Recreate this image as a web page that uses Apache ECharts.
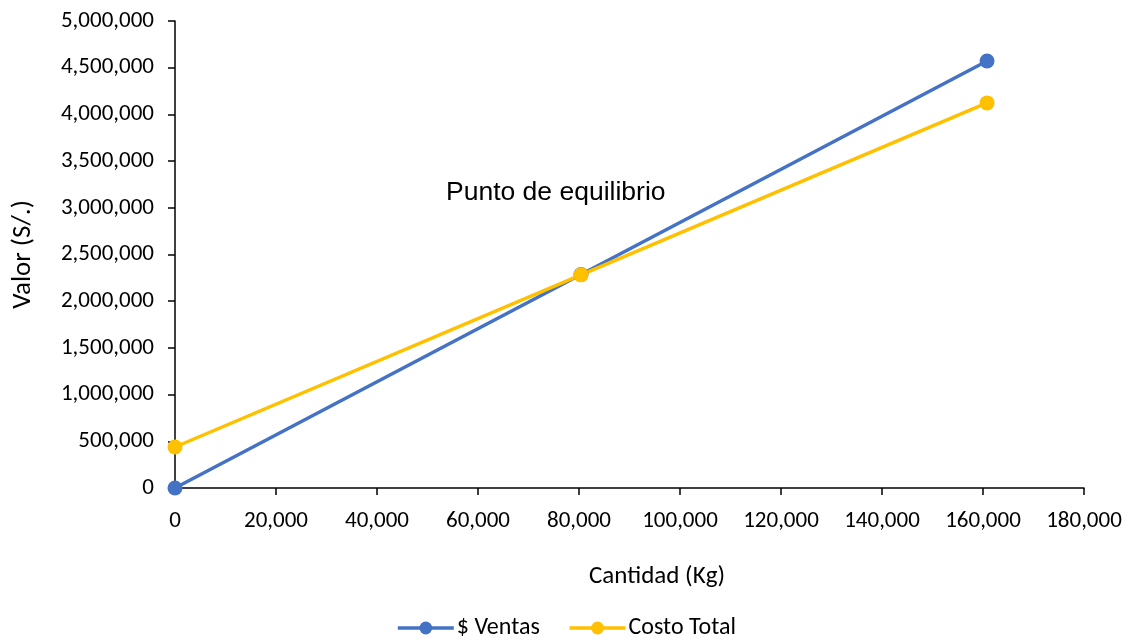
<!DOCTYPE html>
<html><head><meta charset="utf-8">
<script src="https://cdn.jsdelivr.net/npm/echarts@6/dist/echarts.min.js"></script>
<style>html,body{margin:0;padding:0;background:#fff}#c{width:1132px;height:642px}</style>
</head><body><div id="c"></div>
<script>
const cantidad = [0, 80400, 160800];
const ventas = [0, 2286000, 4572000];
const costoTotal = [439000, 2282000, 4123000];
const seriesNames = ['$ Ventas', 'Costo Total'];
const annotation = 'Punto de equilibrio';

const chart = echarts.init(document.getElementById('c'));
const fmt = v => v.toLocaleString('en-US');
const font = 'Carlito, Calibri, "Noto Sans", sans-serif';
chart.setOption({
  animation: false,
  grid: {left: 175, right: 48, top: 21, bottom: 154},
  legend: {
    bottom: -3, left: 'center', itemWidth: 56, itemHeight: 16, itemGap: 28,
    textStyle: {fontFamily: font, fontSize: 24, color: '#000', padding: [0, 0, 0, -2]},
    lineStyle: {width: 3.5},
    data: seriesNames
  },
  xAxis: {
    type: 'value', min: 0, max: 180000, interval: 20000,
    name: 'Cantidad (Kg)', nameLocation: 'middle', nameGap: 76,
    nameTextStyle: {fontFamily: font, fontSize: 25, color: '#000', padding: [0, 0, 0, 55]},
    axisLine: {lineStyle: {color: '#000', width: 1.5}},
    axisTick: {show: true, length: 7, lineStyle: {color: '#000', width: 1.5}},
    axisLabel: {fontFamily: font, fontSize: 23, color: '#000', margin: 22, formatter: fmt},
    splitLine: {show: false}
  },
  yAxis: {
    type: 'value', min: 0, max: 5000000, interval: 500000,
    name: 'Valor (S/.)', nameLocation: 'middle', nameGap: 138,
    nameTextStyle: {fontFamily: font, fontSize: 27, color: '#000'},
    axisLine: {show: true, lineStyle: {color: '#000', width: 1.5}},
    axisTick: {show: true, length: 7, lineStyle: {color: '#000', width: 1.5}},
    axisLabel: {fontFamily: font, fontSize: 23, color: '#000', margin: 21, formatter: fmt},
    splitLine: {show: false}
  },
  graphic: [{
    type: 'text', left: 446, top: 179,
    style: {text: annotation, fontFamily: '"Liberation Sans", Arial, sans-serif', fontSize: 26.5, fill: '#000'}
  }],
  series: [
    {
      name: seriesNames[0], type: 'line', symbol: 'circle', symbolSize: 15,
      data: cantidad.map((x, i) => [x, ventas[i]]),
      lineStyle: {color: '#4472C4', width: 3.5}, itemStyle: {color: '#4472C4'}
    },
    {
      name: seriesNames[1], type: 'line', symbol: 'circle', symbolSize: 15,
      data: cantidad.map((x, i) => [x, costoTotal[i]]),
      lineStyle: {color: '#FFC000', width: 3.5}, itemStyle: {color: '#FFC000'}
    }
  ]
});
</script></body></html>
